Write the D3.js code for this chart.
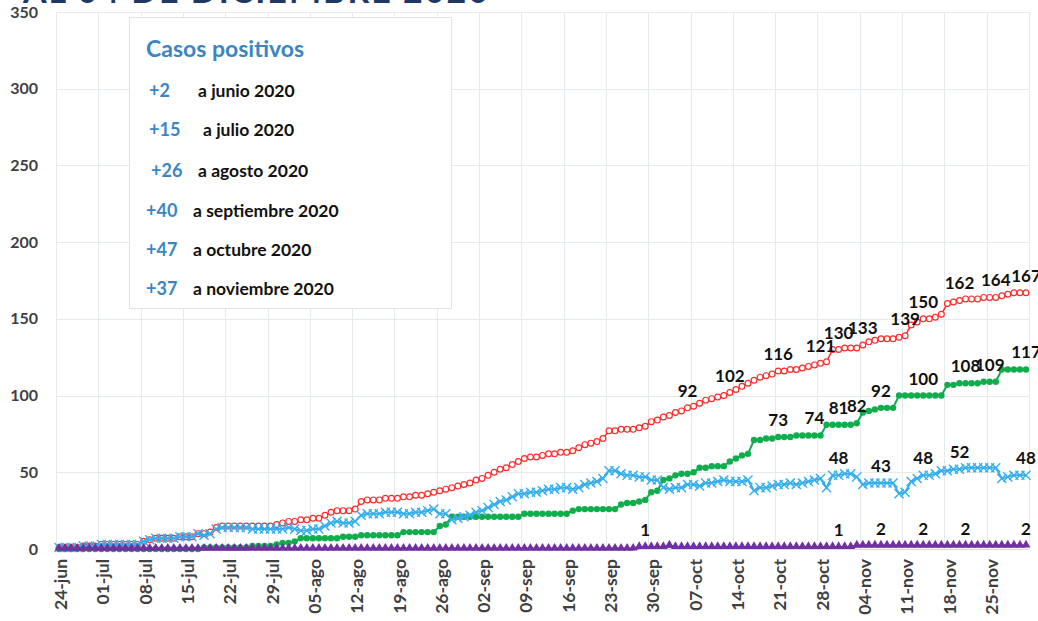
<!DOCTYPE html>
<html>
<head>
<meta charset="utf-8">
<script src="https://cdn.jsdelivr.net/npm/d3@7"></script>
<style>
  body { margin: 0; background: #fff; }
  svg { display: block; font-family: Lato, 'Open Sans', sans-serif; }
</style>
</head>
<body>
<div id="chart"></div>
<script>
// daily values, starting 24-jun-2020
const startDate = '2020-06-24';

const casos = [
  1,1,1,1,2,2,2,
  3,3,3,3,3,3,3,
  5,6,7,7,7,7,8,
  8,8,10,10,11,14,15,
  15,15,15,15,15,15,15,
  15,16,17,18,18,19,19,
  20,20,22,24,25,25,25,
  26,31,32,32,32,33,33,
  33,34,34,35,35,36,37,
  38,39,40,41,42,43,45,
  46,48,50,52,53,55,57,
  59,60,60,61,62,62,63,
  63,64,66,68,69,70,72,
  77,77,78,78,78,79,80,
  83,84,86,87,89,90,92,
  93,95,97,98,99,100,102,
  104,106,108,110,112,113,114,
  116,116,117,117,118,119,120,
  121,122,130,130,131,131,131,
  133,135,136,137,137,137,138,
  139,146,148,150,150,151,153,
  160,161,162,163,163,163,164,
  164,164,165,166,167,167,167
];

const recuperados = [
  0,0,0,0,0,0,0,
  0,0,0,0,0,0,0,
  0,0,0,0,0,0,0,
  0,0,0,1,1,1,1,
  1,1,1,1,2,2,2,
  2,3,4,4,5,7,7,
  7,7,7,7,7,8,8,
  8,9,9,9,9,9,9,
  9,11,11,11,11,11,11,
  15,16,21,21,21,21,21,
  21,21,21,21,21,21,21,
  23,23,23,23,23,23,23,
  23,25,26,26,26,26,26,
  26,26,29,30,30,31,32,
  37,38,45,46,48,49,49,
  50,53,53,54,54,54,57,
  59,61,62,71,71,72,72,
  73,73,73,74,74,74,74,
  74,81,81,81,81,81,82,
  89,90,91,92,92,92,100,
  100,100,100,100,100,100,100,
  107,107,108,108,108,108,109,
  109,109,117,117,117,117,117
];

const activos = [
  1,1,1,1,2,2,2,
  3,3,3,3,3,3,3,
  5,6,7,7,7,7,8,
  8,8,10,9,10,13,14,
  14,14,14,14,13,13,13,
  13,13,13,14,13,12,12,
  13,13,15,17,18,17,17,
  18,22,23,23,23,24,24,
  24,23,23,24,24,25,26,
  23,23,19,20,21,22,24,
  25,27,29,31,32,34,36,
  36,37,37,38,39,39,40,
  40,39,40,42,43,44,46,
  51,51,49,48,48,47,47,
  45,45,40,39,40,40,42,
  42,41,43,43,44,45,44,
  44,44,45,38,40,40,41,
  42,42,43,42,43,44,45,
  46,40,48,48,49,49,47,
  42,43,43,43,43,43,36,
  37,44,46,48,48,49,51,
  51,52,52,53,53,53,53,
  53,53,46,47,48,48,48
];

const fallecidos = [
  0,0,0,0,0,0,0,
  0,0,0,0,0,0,0,
  0,0,0,0,0,0,0,
  0,0,0,0,0,0,0,
  0,0,0,0,0,0,0,
  0,0,0,0,0,0,0,
  0,0,0,0,0,0,0,
  0,0,0,0,0,0,0,
  0,0,0,0,0,0,0,
  0,0,0,0,0,0,0,
  0,0,0,0,0,0,0,
  0,0,0,0,0,0,0,
  0,0,0,0,0,0,0,
  0,0,0,0,0,1,1,
  1,1,1,2,1,1,1,
  1,1,1,1,1,1,1,
  1,1,1,1,1,1,1,
  1,1,1,1,1,1,1,
  1,1,1,1,1,1,2,
  2,2,2,2,2,2,2,
  2,2,2,2,2,2,2,
  2,2,2,2,2,2,2,
  2,2,2,2,2,2,2
];

// dates that carry a data label
const etiquetasCasos = ['2020-10-06','2020-10-13','2020-10-21','2020-10-28','2020-10-31','2020-11-04',
  '2020-11-11','2020-11-14','2020-11-20','2020-11-26','2020-12-01'];
const etiquetasRecuperados = ['2020-10-21','2020-10-27','2020-10-31','2020-11-03','2020-11-07',
  '2020-11-14','2020-11-21','2020-11-25','2020-12-01'];
const etiquetasActivos = ['2020-10-31','2020-11-07','2020-11-14','2020-11-20','2020-12-01'];
const etiquetasFallecidos = ['2020-09-29','2020-10-31','2020-11-07','2020-11-14','2020-11-21','2020-12-01'];

const yTicks = [0, 50, 100, 150, 200, 250, 300, 350];

const resumenNumeros = ['+2', '+15', '+26', '+40', '+47', '+37'];
const resumenTextos = ['a junio 2020', 'a julio 2020', 'a agosto 2020', 'a septiembre 2020',
  'a octubre 2020', 'a noviembre 2020'];

const width = 1038, height = 621;
const margin = {left: 56, right: 9, top: 12, bottom: 72};

const parse = d3.timeParse('%Y-%m-%d');
const t0 = parse(startDate);
const dates = d3.timeDay.range(t0, d3.timeDay.offset(t0, casos.length));
const key = d => d3.timeFormat('%Y-%m-%d')(d);
const keys = dates.map(key);

const es = d3.timeFormatLocale({
  dateTime: '%x, %X', date: '%d/%m/%Y', time: '%H:%M:%S', periods: ['AM', 'PM'],
  days: ['domingo','lunes','martes','miércoles','jueves','viernes','sábado'],
  shortDays: ['dom','lun','mar','mié','jue','vie','sáb'],
  months: ['enero','febrero','marzo','abril','mayo','junio','julio','agosto','septiembre','octubre','noviembre','diciembre'],
  shortMonths: ['ene','feb','mar','abr','may','jun','jul','ago','sep','oct','nov','dic']
});

const svg = d3.select('#chart').append('svg')
  .attr('width', width)
  .attr('height', height);

const x = d3.scaleBand()
  .domain(keys)
  .range([margin.left, width - margin.right]);
const bw = x.bandwidth();
const cx = i => x(keys[i]) + bw / 2;

const y = d3.scaleLinear()
  .domain([0, 350])
  .range([height - margin.bottom, margin.top]);

// title, mostly cut off at the top
svg.append('text')
  .attr('x', 490)
  .attr('y', 3)
  .attr('text-anchor', 'end')
  .attr('fill', '#203864')
  .attr('font-size', 34)
  .attr('font-weight', 'bold')
  .attr('letter-spacing', 2)
  .text('AL 04 DE DICIEMBRE 2020');

// gridlines
const grid = svg.append('g');
grid.selectAll('.hgrid')
  .data(yTicks)
  .enter()
  .append('line')
  .attr('x1', margin.left)
  .attr('x2', width - margin.right)
  .attr('y1', d => Math.round(y(d)) + 0.5)
  .attr('y2', d => Math.round(y(d)) + 0.5)
  .attr('stroke', '#e4eaed')
  .attr('stroke-width', 1);

const vgrid = keys.filter((d, i) => i % 7 === 0).map(k => x(k));
vgrid.push(width - margin.right);
grid.selectAll('.vgrid')
  .data(vgrid)
  .enter()
  .append('line')
  .attr('x1', d => Math.round(d) + 0.5)
  .attr('x2', d => Math.round(d) + 0.5)
  .attr('y1', y(350))
  .attr('y2', y(0))
  .attr('stroke', '#e4eaed')
  .attr('stroke-width', 1);

// axes
const yAxis = svg.append('g')
  .attr('transform', `translate(${margin.left},0)`)
  .call(d3.axisLeft(y).tickValues(yTicks).tickSize(0).tickPadding(18));
yAxis.select('.domain').remove();
yAxis.selectAll('text')
  .attr('fill', '#404040')
  .attr('font-size', 16)
  .attr('font-weight', 'bold')
  .attr('font-family', "Lato, 'Open Sans', sans-serif");

const xAxis = svg.append('g')
  .attr('transform', `translate(0,${y(0)})`)
  .call(d3.axisBottom(x)
    .tickValues(keys.filter((d, i) => i % 7 === 0))
    .tickFormat(k => es.format('%d-%b')(parse(k)))
    .tickSize(0));
xAxis.select('.domain').attr('stroke', '#d9d9d9');
xAxis.selectAll('text')
  .attr('transform', 'rotate(-90)')
  .attr('x', -10)
  .attr('y', 2)
  .attr('dy', '0.35em')
  .attr('text-anchor', 'end')
  .attr('fill', '#404040')
  .attr('font-size', 17.5)
  .attr('font-weight', 'bold')
  .attr('font-family', "Lato, 'Open Sans', sans-serif");

// text box with the monthly summary
const box = svg.append('g');
box.append('rect')
  .attr('x', 129.5)
  .attr('y', 17.5)
  .attr('width', 322)
  .attr('height', 291)
  .attr('fill', '#fff')
  .attr('stroke', '#e2e2e2');
box.append('text')
  .attr('x', 146)
  .attr('y', 57)
  .attr('fill', '#3a86c4')
  .attr('font-size', 23)
  .attr('font-weight', 'bold')
  .text('Casos positivos');

const rowY = [97, 136, 177, 217, 256, 295];
const numX = [149, 149, 151, 146, 146, 146];
const txtX = [198, 203, 198, 193, 193, 193];
resumenNumeros.forEach((n, i) => {
  box.append('text')
    .attr('x', numX[i])
    .attr('y', rowY[i])
    .attr('fill', '#3a86c4')
    .attr('font-size', 18)
    .attr('font-weight', 'bold')
    .text(n);
  box.append('text')
    .attr('x', txtX[i])
    .attr('y', rowY[i])
    .attr('fill', '#111')
    .attr('font-size', 17.5)
    .attr('font-weight', 'bold')
    .text(resumenTextos[i]);
});

// series
const line = d3.line()
  .x((d, i) => cx(i))
  .y(d => y(d));

const series = [
  {data: casos, color: '#ff2a2a', width: 1.5, labels: etiquetasCasos},
  {data: recuperados, color: '#0fad4b', width: 2, labels: etiquetasRecuperados},
  {data: activos, color: '#35aeee', width: 2, labels: etiquetasActivos},
  {data: fallecidos, color: '#7030a0', width: 3, labels: etiquetasFallecidos}
];

series.forEach((s, si) => {
  const g = svg.append('g');
  g.append('path')
    .datum(s.data)
    .attr('d', line)
    .attr('fill', 'none')
    .attr('stroke', s.color)
    .attr('stroke-width', s.width);

  const pts = g.selectAll('.pt')
    .data(s.data)
    .enter();

  if (si === 0) {
    pts.append('circle')
      .attr('cx', (d, i) => cx(i))
      .attr('cy', d => y(d))
      .attr('r', 2.9)
      .attr('fill', '#fff')
      .attr('stroke', s.color)
      .attr('stroke-width', 1.2);
  } else if (si === 1) {
    pts.append('circle')
      .attr('cx', (d, i) => cx(i))
      .attr('cy', d => y(d))
      .attr('r', 3.2)
      .attr('fill', s.color);
  } else if (si === 2) {
    pts.append('path')
      .attr('transform', (d, i) => `translate(${cx(i)},${y(d)})`)
      .attr('d', d3.symbol(d3.symbolX, 55))
      .attr('fill', 'none')
      .attr('stroke', s.color)
      .attr('stroke-width', 1.4);
  } else {
    pts.append('path')
      .attr('transform', (d, i) => `translate(${cx(i)},${y(d) - 1})`)
      .attr('d', d3.symbol(d3.symbolTriangle, 34))
      .attr('fill', s.color);
  }
});

// data labels on top
series.forEach(s => {
  svg.append('g')
    .selectAll('text')
    .data(s.labels)
    .enter()
    .append('text')
    .attr('x', k => x(k) + bw / 2)
    .attr('y', k => y(s.data[keys.indexOf(k)]) - 11)
    .attr('text-anchor', 'middle')
    .attr('fill', '#111')
    .attr('font-size', 17)
    .attr('font-weight', 'bold')
    .text(k => s.data[keys.indexOf(k)]);
});
</script>
</body>
</html>
